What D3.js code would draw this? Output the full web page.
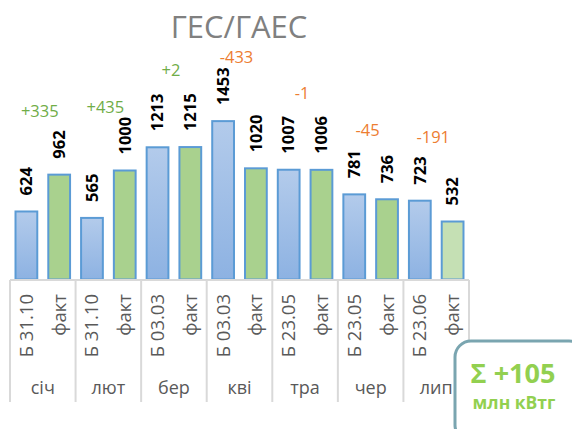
<!DOCTYPE html>
<html>
<head>
<meta charset="utf-8">
<script src="https://cdn.jsdelivr.net/npm/d3@7"></script>
<style>
  html, body { margin: 0; padding: 0; background: #fff; }
  svg { display: block; font-family: "Open Sans", sans-serif; }
</style>
</head>
<body>
<div id="chart"></div>
<script>
// ---- data ----
const title = "ГЕС/ГАЕС";
const months = ["січ", "лют", "бер", "кві", "тра", "чер", "лип"];
const planLabels = ["Б 31.10", "Б 31.10", "Б 03.03", "Б 03.03", "Б 23.05", "Б 23.05", "Б 23.06"];
const factLabel = "факт";
const planValues = [624, 565, 1213, 1453, 1007, 781, 723];
const factValues = [962, 1000, 1215, 1020, 1006, 736, 532];
const diffValues = [335, 435, 2, -433, -1, -45, -191];
const totalLabel = "Σ +105";
const unitLabel = "млн кВтг";

// ---- layout ----
const W = 572, H = 429;
const svg = d3.select("#chart").append("svg").attr("width", W).attr("height", H);

const defs = svg.append("defs");
const grad = defs.append("linearGradient").attr("id", "blueGrad")
  .attr("x1", 0).attr("y1", 0).attr("x2", 0).attr("y2", 1);
grad.append("stop").attr("offset", "0%").attr("stop-color", "#b3cbeb");
grad.append("stop").attr("offset", "100%").attr("stop-color", "#8db2e2");

const xg = d3.scaleBand().domain(months).range([10, 469]);
const xs = d3.scaleBand().domain(["plan", "fact"]).range([0, xg.bandwidth()])
  .paddingInner(0.336).paddingOuter(0.168);
const y = d3.scaleLinear().domain([0, 2000]).range([279.5, 61.5]);

// title
svg.append("text").attr("x", 239).attr("y", 38).attr("text-anchor", "middle")
  .attr("font-size", 31).attr("fill", "#808080").text(title);

// rows
const rows = months.map((m, i) => ({
  month: m, plan: planValues[i], fact: factValues[i], diff: diffValues[i],
  planLabel: planLabels[i], last: i === months.length - 1
}));

const g = svg.append("g");
const grp = g.selectAll("g.grp").data(rows).join("g").attr("class", "grp")
  .attr("transform", d => `translate(${xg(d.month)},0)`);

// bars
grp.append("rect")
  .attr("x", xs("plan")).attr("width", xs.bandwidth())
  .attr("y", d => y(d.plan)).attr("height", d => y(0) - y(d.plan))
  .attr("fill", "url(#blueGrad)").attr("stroke", "#5b9bd5").attr("stroke-width", 2);
grp.append("rect")
  .attr("x", xs("fact")).attr("width", xs.bandwidth())
  .attr("y", d => y(d.fact)).attr("height", d => y(0) - y(d.fact))
  .attr("fill", d => d.last ? "#c5e0b4" : "#a9d18e").attr("stroke", "#5b9bd5").attr("stroke-width", 2);

// value labels (rotated)
function valLabel(key) {
  grp.append("text")
    .attr("transform", d => `translate(${xs(key) + xs.bandwidth() / 2},${y(d[key]) - 16}) rotate(-90)`)
    .attr("dy", "0.35em").attr("text-anchor", "start")
    .attr("font-size", 16.5).attr("font-weight", "bold").attr("fill", "#000")
    .text(d => d[key]);
}
valLabel("plan");
valLabel("fact");

// diff labels
grp.append("text")
  .attr("x", xg.bandwidth() / 2 - 3)
  .attr("y", d => y(Math.max(d.plan, d.fact)) - 58 - (Math.abs(d.diff) < 10 ? 13 : 0))
  .attr("text-anchor", "middle").attr("font-size", 16.5)
  .attr("fill", d => d.diff >= 0 ? "#70ad47" : "#ed7d31")
  .text(d => (d.diff >= 0 ? "+" : "") + d.diff);

// axis baseline
const axisColor = "#d9d9d9";
svg.append("line").attr("x1", xg.range()[0]).attr("x2", xg.range()[1])
  .attr("y1", 280).attr("y2", 280).attr("stroke", axisColor).attr("stroke-width", 2);

// group separators
const bounds = months.map(m => xg(m)).concat([xg.range()[1]]);
svg.selectAll("line.sep").data(bounds).join("line").attr("class", "sep")
  .attr("x1", d => d).attr("x2", d => d).attr("y1", 280).attr("y2", 402)
  .attr("stroke", axisColor).attr("stroke-width", 2);

// inner category labels (rotated)
grp.append("text")
  .attr("transform", `translate(${xs("plan") + xs.bandwidth() / 2},294) rotate(-90)`)
  .attr("dy", "0.35em").attr("text-anchor", "end")
  .attr("font-size", 18.5).attr("fill", "#595959")
  .text(d => d.planLabel);
grp.append("text")
  .attr("transform", `translate(${xs("fact") + xs.bandwidth() / 2},294) rotate(-90)`)
  .attr("dy", "0.35em").attr("text-anchor", "end")
  .attr("font-size", 18.5).attr("fill", "#595959")
  .text(factLabel);

// month axis
const ax = svg.append("g").attr("transform", "translate(0,394)")
  .call(d3.axisBottom(xg).tickSize(0).tickPadding(0));
ax.select(".domain").remove();
ax.selectAll("text").attr("dy", 0).attr("y", 0)
  .attr("font-family", "Open Sans, sans-serif").attr("font-size", 18).attr("fill", "#595959");

// total box
const box = svg.append("g");
box.append("rect").attr("x", 455).attr("y", 341).attr("width", 130).attr("height", 100)
  .attr("rx", 16).attr("ry", 16).attr("fill", "#fff").attr("stroke", "#7aa5b0").attr("stroke-width", 3);
box.append("text").attr("x", 513).attr("y", 383).attr("text-anchor", "middle")
  .attr("font-size", 27).attr("font-weight", "bold").attr("fill", "#92d050").text(totalLabel);
box.append("text").attr("x", 514).attr("y", 409).attr("text-anchor", "middle")
  .attr("font-size", 17.5).attr("font-weight", "bold").attr("fill", "#92d050").text(unitLabel);
</script>
</body>
</html>
